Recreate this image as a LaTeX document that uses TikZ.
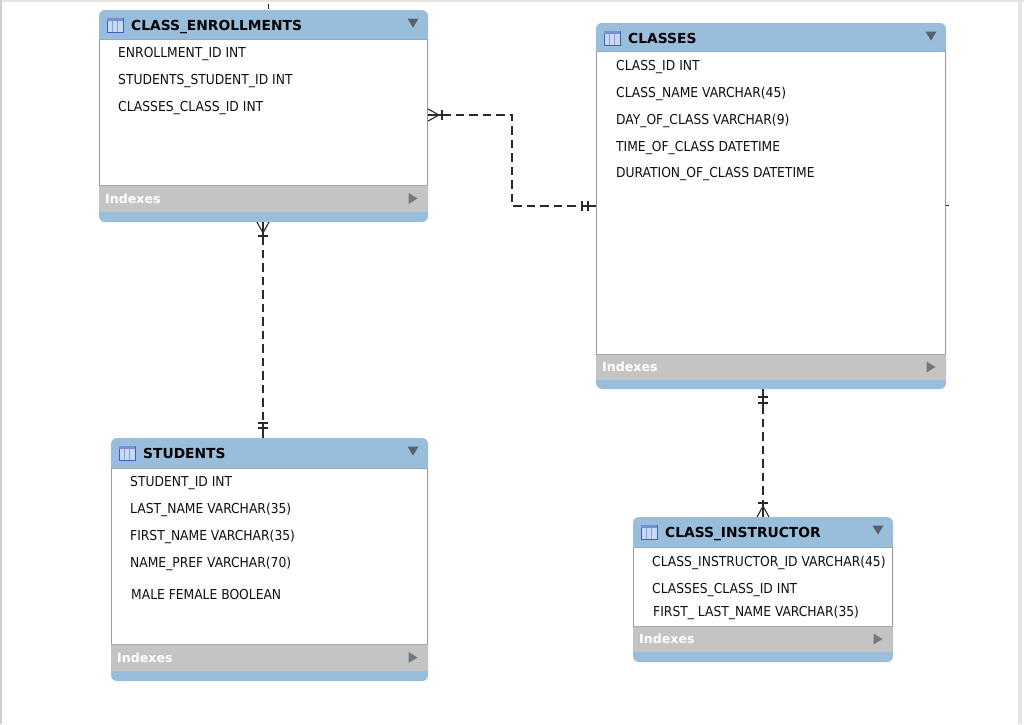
\documentclass[tikz,border=0pt]{standalone}
\usepackage{fontspec}
\setmainfont{Liberation Sans}
\newfontfamily\hdrfont{DejaVu Sans}
\newfontfamily\rowfont{DejaVu Sans Condensed}
\usetikzlibrary{calc}
\definecolor{hdrblue}{HTML}{98BEDC}
\definecolor{idxgray}{HTML}{C4C4C4}
\definecolor{idxline}{HTML}{A8A8A8}
\definecolor{bordgray}{HTML}{9A9A9A}
\definecolor{trigray}{HTML}{5A5F68}
\definecolor{relc}{HTML}{2A2A2A}
\definecolor{iconb}{HTML}{3D5FC8}
\definecolor{iconf}{HTML}{C9D9F2}
\definecolor{framegray}{HTML}{CFCFCF}
\definecolor{framelight}{HTML}{E4E4E4}
\definecolor{rowtext}{HTML}{101010}
\tikzset{
  tblshape/.style={rectangle, fill=hdrblue, rounded corners=6pt, inner sep=0pt, outer sep=0pt, anchor=north west},
  tbltitle/.style={anchor=base west, inner sep=0pt, font=\hdrfont\bfseries\fontsize{13.8}{15}\selectfont, text=black},
  idxtext/.style={anchor=base west, inner sep=0pt, font=\hdrfont\bfseries\fontsize{12.6}{14}\selectfont, text=white},
  rowtxt/.style={anchor=base west, inner sep=0pt, font=\rowfont\fontsize{13.7}{15}\selectfont, text=rowtext},
  rel/.style={draw=relc, line width=1.1pt, dash pattern=on 8.5pt off 5pt},
  relsolid/.style={draw=relc, line width=1.1pt},
}
% #1 name, #2 x1, #3 ytop, #4 x2, #5 yhdr, #6 yidx, #7 yidxb, #8 ybot, #9 title
\newcommand\ertable[9]{%
  \pgfmathsetmacro\tw{#4-#2}%
  \pgfmathsetmacro\th{#8-#3}%
  \node[tblshape, minimum width=\tw pt, minimum height=\th pt] (#1) at (#2,#3) {};
  \fill[white] (#2,#5) rectangle (#4,#6);
  \fill[idxgray] (#2,#6) rectangle (#4,#7);
  \draw[idxline, line width=0.8pt] (#2,#6) -- (#4,#6);
  \draw[bordgray, line width=1pt] ({#2+0.5},#5) -- ({#2+0.5},#6);
  \draw[bordgray, line width=1pt] ({#4-0.5},#5) -- ({#4-0.5},#6);
  \draw[hdrblue!70!gray, line width=0.4pt] (#2,#5) -- (#4,#5);
  % icon
  \draw[iconb, fill=iconf, line width=0.9pt] ({#2+8},{#3+8}) rectangle ({#2+24},{#3+22});
  \fill[iconb!70] ({#2+8},{#3+8}) rectangle ({#2+24},{#3+11});
  \draw[iconb!60, line width=0.6pt] ({#2+13.3},{#3+11}) -- ({#2+13.3},{#3+22})
     ({#2+18.6},{#3+11}) -- ({#2+18.6},{#3+22});
  % title
  \node[tbltitle] (#1-t) at ({#2+32},{#3+20.5}) {#9};
  % down triangle
  \fill[trigray] ({#4-20.5},{#3+8.5}) -- ({#4-9.5},{#3+8.5}) -- ({#4-15},{#3+17.5}) -- cycle;
  % indexes
  \node[idxtext] (#1-i) at ({#2+6},{(#6+#7)/2+4.5}) {Indexes};
  \fill[trigray!85] ({#4-19.5},{(#6+#7)/2-5.5}) -- ({#4-10.5},{(#6+#7)/2}) -- ({#4-19.5},{(#6+#7)/2+5.5}) -- cycle;
}
\begin{document}
\begin{tikzpicture}[x=1pt,y=-1pt]
\useasboundingbox (0,0) rectangle (1024,724);
\fill[white] (0,0) rectangle (1024,724);
\fill[framelight] (0,0) rectangle (1024,2);
\fill[framegray] (0,0) rectangle (2,724);
\fill[framelight] (1018,0) rectangle (1022,724);

% tables
\ertable{ce}{99}{10}{428}{39}{185}{212}{222}{CLASS\_ENROLLMENTS}
\node[rowtxt] (ce-r1) at (118,57) {ENROLLMENT\_ID INT};
\node[rowtxt] (ce-r2) at (118,84) {STUDENTS\_STUDENT\_ID INT};
\node[rowtxt] (ce-r3) at (118,111) {CLASSES\_CLASS\_ID INT};

\ertable{cl}{596}{23}{946}{51}{354}{380}{389}{CLASSES}
\node[rowtxt] (cl-r1) at (616,70) {CLASS\_ID INT};
\node[rowtxt] (cl-r2) at (616,97) {CLASS\_NAME VARCHAR(45)};
\node[rowtxt] (cl-r3) at (616,124) {DAY\_OF\_CLASS VARCHAR(9)};
\node[rowtxt] (cl-r4) at (616,151) {TIME\_OF\_CLASS DATETIME};
\node[rowtxt] (cl-r5) at (616,177) {DURATION\_OF\_CLASS DATETIME};

\ertable{st}{111}{438}{428}{468}{644}{671}{681}{STUDENTS}
\node[rowtxt] (st-r1) at (130,486) {STUDENT\_ID INT};
\node[rowtxt] (st-r2) at (130,513) {LAST\_NAME VARCHAR(35)};
\node[rowtxt] (st-r3) at (130,540) {FIRST\_NAME VARCHAR(35)};
\node[rowtxt] (st-r4) at (130,567) {NAME\_PREF VARCHAR(70)};
\node[rowtxt] (st-r5) at (131,599) {MALE FEMALE BOOLEAN};

\ertable{ci}{633}{517}{893}{547}{626}{652}{662}{CLASS\_INSTRUCTOR}
\node[rowtxt] (ci-r1) at (652,566) {CLASS\_INSTRUCTOR\_ID VARCHAR(45)};
\node[rowtxt] (ci-r2) at (652,593) {CLASSES\_CLASS\_ID INT};
\node[rowtxt] (ci-r3) at (653,616) {FIRST\_ LAST\_NAME VARCHAR(35)};

% connector 1: CLASS_ENROLLMENTS -> CLASSES
\coordinate (e1a) at ($(ce.north east)+(0,105)$);
\coordinate (e1b) at ($(cl.north west)+(0,183)$);
\draw[relsolid] ($(e1a)+(0,-6)$) -- ($(e1a)+(11,0)$) -- ($(e1a)+(0,6)$);
\draw[relsolid] (e1a) -- ($(e1a)+(14,0)$);
\draw[relsolid] ($(e1a)+(14,-5)$) -- ($(e1a)+(14,5)$);
\draw[rel] ($(e1a)+(14,0)$) -| ($(e1a)!.5!(e1b)$) |- ($(e1b)+(-14,0)$);
\draw[relsolid] ($(e1b)+(-14,0)$) -- (e1b);
\draw[relsolid] ($(e1b)+(-14,-5)$) -- ($(e1b)+(-14,5)$);
\draw[relsolid] ($(e1b)+(-8,-5)$) -- ($(e1b)+(-8,5)$);

% connector 2: CLASS_ENROLLMENTS -> STUDENTS
\coordinate (e2a) at ($(ce.south west)+(164,0)$);
\coordinate (e2b) at (e2a |- st.north);
\draw[relsolid] ($(e2a)+(-6,0)$) -- ($(e2a)+(0,11)$) -- ($(e2a)+(6,0)$);
\draw[relsolid] (e2a) -- ($(e2a)+(0,14)$);
\draw[relsolid] ($(e2a)+(-5,14)$) -- ($(e2a)+(5,14)$);
\draw[rel] ($(e2a)+(0,14)$) -- ($(e2b)+(0,-16)$);
\draw[relsolid] ($(e2b)+(0,-16)$) -- (e2b);
\draw[relsolid] ($(e2b)+(-5,-15)$) -- ($(e2b)+(5,-15)$);
\draw[relsolid] ($(e2b)+(-5,-10)$) -- ($(e2b)+(5,-10)$);

% connector 3: CLASSES -> CLASS_INSTRUCTOR
\coordinate (e3a) at ($(cl.south west)+(167,0)$);
\coordinate (e3b) at (e3a |- ci.north);
\draw[relsolid] (e3a) -- ($(e3a)+(0,16)$);
\draw[relsolid] ($(e3a)+(-5,8)$) -- ($(e3a)+(5,8)$);
\draw[relsolid] ($(e3a)+(-5,14)$) -- ($(e3a)+(5,14)$);
\draw[rel] ($(e3a)+(0,16)$) -- ($(e3b)+(0,-16)$);
\draw[relsolid] ($(e3b)+(0,-16)$) -- (e3b);
\draw[relsolid] ($(e3b)+(-5,-14)$) -- ($(e3b)+(5,-14)$);
\draw[relsolid] ($(e3b)+(-6,0)$) -- ($(e3b)+(0,-11)$) -- ($(e3b)+(6,0)$);

% small stubs of connectors leaving the picture
\coordinate (s1) at ($(ce.north west)+(169,-6)$);
\draw[relsolid, line width=0.8pt] (s1) -- ($(ce.north west)+(169,-1)$);
\coordinate (s2) at ($(cl.north east)+(3,182)$);
\draw[relsolid, line width=0.8pt] ($(cl.north east)+(0,182)$) -- (s2);
\end{tikzpicture}
\end{document}
